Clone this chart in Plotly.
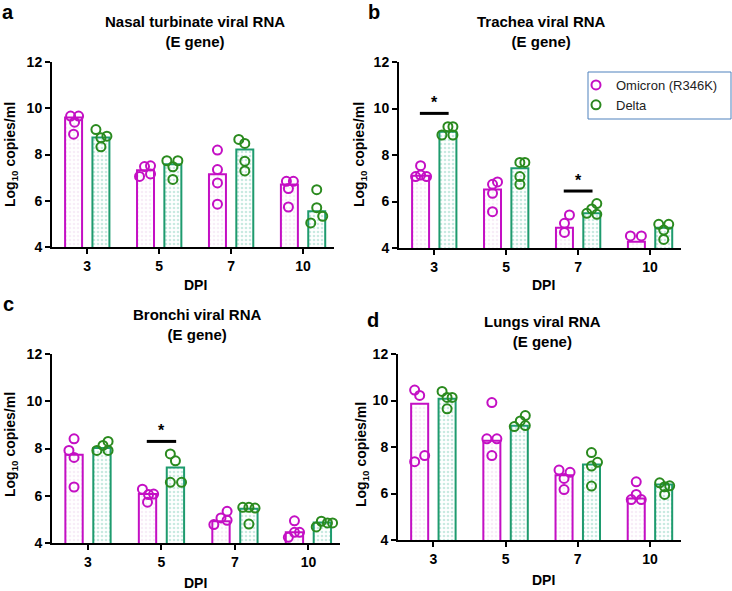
import plotly.graph_objects as go

# ---------------- data ----------------
dpi_labels = ["3", "5", "7", "10"]
dpi_idx = [0, 1, 2, 3]

# bar heights (log10 copies/ml)
a_om_bar = [9.60, 7.32, 7.15, 6.70]
a_de_bar = [8.74, 7.58, 8.22, 5.55]
b_om_bar = [7.11, 6.52, 4.87, 4.27]
b_de_bar = [9.00, 7.43, 5.49, 4.87]
c_om_bar = [7.74, 6.07, 4.92, 4.45]
c_de_bar = [8.02, 7.20, 5.45, 4.87]
d_om_bar = [9.86, 8.27, 6.79, 5.78]
d_de_bar = [10.07, 8.91, 7.25, 6.39]

# individual animals per DPI
a_om_pts = [[9.66, 9.66, 9.40, 8.88], [7.05, 7.48, 7.51, 7.16], [8.19, 7.35, 6.77, 5.85], [6.84, 6.84, 6.53, 5.73]]
a_de_pts = [[9.08, 8.79, 8.72, 8.33], [7.73, 7.73, 7.47, 6.92], [8.65, 8.48, 7.71, 7.29], [6.48, 5.70, 5.33, 5.04]]
b_om_pts = [[7.54, 7.07, 7.07, 7.14], [6.74, 6.84, 6.35, 5.56], [5.42, 5.06, 4.67], [4.52, 4.52]]
b_de_pts = [[8.86, 9.22, 9.22, 8.86], [7.68, 7.68, 7.07, 6.74], [5.49, 5.68, 5.91, 5.45], [5.02, 5.02, 4.77, 4.37]]
c_om_pts = [[8.41, 7.92, 7.62, 6.37], [6.28, 6.05, 6.07, 5.73], [4.78, 5.06, 4.96, 5.34], [4.24, 4.45, 4.45, 4.94]]
c_de_pts = [[7.92, 8.13, 8.30, 7.92], [7.77, 7.48, 6.57, 6.57], [5.51, 5.51, 5.48, 4.80], [4.68, 4.92, 4.85, 4.85]]
d_om_pts = [[10.45, 10.22, 7.63, 7.37], [9.91, 8.35, 8.35, 7.63], [7.01, 6.65, 6.91, 6.17], [6.50, 5.74, 5.74, 5.96]]
d_de_pts = [[10.39, 10.13, 10.13, 9.64], [8.88, 9.12, 9.35, 8.92], [7.76, 7.34, 7.18, 6.32], [6.46, 6.29, 6.33, 5.96]]

# horizontal spread of dots inside a bar (pixels, style only)
a_om_jit = [[-3, 5, 1, 0], [-6, -1, 5, 5], [0, 0, 0, 0], [-3, 4, -1, -1]]
a_de_jit = [[-5, 6, 0, 0], [-6, 5, 0, 0], [-6, 0, 0, 0], [0, 0, 6, -6]]
b_om_jit = [[0, -5, 6, 0], [0, 5, 0, 0], [5, 0, 0], [-6, 5]]
b_de_jit = [[-6, 0, 5, 5], [0, 5, 0, 0], [-5, 0, 5, 5], [-5, 5, 0, 0]]
c_om_jit = [[0, -5, 0, 0], [-5, 1, 6, 0], [-7, 0, 6, 6], [-6, 0, 5, 0]]
c_de_jit = [[-5, 1, 6, 6], [-5, 0, -5, 6], [-6, 0, 6, 0], [-6, -1, 5, 10]]
d_om_jit = [[-5, 0, 5, -5], [0, -5, 5, 0], [-5, 0, 6, 0], [0, -5, 5, 0]]
d_de_jit = [[-5, 0, 5, 0], [-5, 1, 6, 6], [0, 6, 0, 0], [-4, 1, 6, 1]]

# significance markers: (DPI index, bar level)
b_sig = [(0, 9.79), (2, 6.45)]
c_sig = [(1, 8.30)]

titles = ["Nasal turbinate viral RNA<br>(E gene)", "Trachea viral RNA<br>(E gene)",
          "Bronchi viral RNA<br>(E gene)", "Lungs viral RNA<br>(E gene)"]
letters = ["a", "b", "c", "d"]
series_names = ["Omicron (R346K)", "Delta"]

# ---------------- style ----------------
W, H = 732, 591
OM_LINE = "#C40FC4"
OM_DOT = "#C40FC4"
DE_LINE = "#1E9B6E"
DE_DOT = "#2A8A1E"
FONT = "Liberation Sans"
OFF = 0.19
BW = 0.236
PX = 1 / 72.0

# panel geometry in pixels: (x0, x1, ytop, ybottom)
geo = [(52, 334, 62, 247), (399, 681, 62, 248), (52, 340, 354, 543), (398, 681, 354, 540)]
title_pos = [(195, 32), (541, 32), (197, 325), (542, 332)]
ylab_pos = [(11, 155), (360, 155), (11, 445), (362, 455)]
dpi_pos = [(195, 285), (543, 285), (195, 583), (543, 580)]
letter_pos = [(8, 12), (374, 12), (8, 304), (373, 320)]

panels = [
    (a_om_bar, a_de_bar, a_om_pts, a_de_pts, a_om_jit, a_de_jit, []),
    (b_om_bar, b_de_bar, b_om_pts, b_de_pts, b_om_jit, b_de_jit, b_sig),
    (c_om_bar, c_de_bar, c_om_pts, c_de_pts, c_om_jit, c_de_jit, c_sig),
    (d_om_bar, d_de_bar, d_om_pts, d_de_pts, d_om_jit, d_de_jit, []),
]

fig = go.Figure()
layout = dict(
    width=W, height=H, margin=dict(l=0, r=0, t=0, b=0, autoexpand=False),
    paper_bgcolor="white", plot_bgcolor="white",
    barmode="overlay", showlegend=True,
    legend=dict(x=576 / W, y=1 - 70 / H, xanchor="left", yanchor="top",
                borderwidth=0, bgcolor="rgba(0,0,0,0)",
                font=dict(family=FONT, size=13, color="#222"),
                itemwidth=30, tracegroupgap=0),
    shapes=[dict(type="rect", xref="paper", yref="paper",
                 x0=588 / W, x1=731 / W, y0=1 - 119 / H, y1=1 - 72 / H,
                 line=dict(color="#4F81BD", width=1), fillcolor="rgba(0,0,0,0)", layer="below")],
)
annotations = []

for p, (om_bar, de_bar, om_pts, de_pts, om_jit, de_jit, sig) in enumerate(panels):
    n = p + 1
    xa = "x" if n == 1 else f"x{n}"
    ya = "y" if n == 1 else f"y{n}"
    x0, x1, yt, yb = geo[p]
    axis_common = dict(showline=True, linecolor="black", linewidth=2, ticks="outside",
                       tickwidth=2, ticklen=5, tickcolor="black", showgrid=False, zeroline=False,
                       automargin=False,
                       tickfont=dict(family=FONT, size=14, color="black", weight="bold"))
    layout["xaxis" if n == 1 else f"xaxis{n}"] = dict(
        domain=[x0 / W, x1 / W], anchor=ya, range=[-0.49, 3.43],
        tickvals=dpi_idx, ticktext=dpi_labels, **axis_common)
    layout["yaxis" if n == 1 else f"yaxis{n}"] = dict(
        domain=[1 - yb / H, 1 - yt / H], anchor=xa, range=[4, 12],
        tickvals=[4, 6, 8, 10, 12], **axis_common)

    for side, bars, pts, jit, lc, dc, fg, name in [
        (-1, om_bar, om_pts, om_jit, OM_LINE, OM_DOT, "#F0DCF0", series_names[0]),
        (1, de_bar, de_pts, de_jit, DE_LINE, DE_DOT, "#94D5C3", series_names[1]),
    ]:
        fig.add_trace(go.Bar(
            x=dpi_idx, y=bars, width=BW, offset=side * OFF - BW / 2,
            marker=dict(color="white", line=dict(color=lc, width=2),
                        pattern=dict(shape=".", fgcolor=fg, bgcolor="white", size=4, solidity=0.35)),
            xaxis=xa, yaxis=ya, showlegend=False, hoverinfo="skip"))
        xs, ys = [], []
        for i, (vals, js) in enumerate(zip(pts, jit)):
            for v, j in zip(vals, js):
                xs.append(dpi_idx[i] + side * OFF + j * PX)
                ys.append(v)
        fig.add_trace(go.Scatter(
            x=xs, y=ys, mode="markers", name=name,
            marker=dict(symbol="circle-open", size=9, color=dc, line=dict(width=2, color=dc)),
            xaxis=xa, yaxis=ya, showlegend=(p == 0), cliponaxis=False))

    for (i, lvl) in sig:
        fig.add_trace(go.Scatter(
            x=[dpi_idx[i] - 0.2, dpi_idx[i] + 0.2], y=[lvl, lvl], mode="lines",
            line=dict(color="black", width=3), xaxis=xa, yaxis=ya, showlegend=False,
            hoverinfo="skip"))
        annotations.append(dict(x=dpi_idx[i], y=lvl, xref=xa, yref=ya, text="<b>*</b>",
                                showarrow=False, yanchor="bottom", yshift=0,
                                font=dict(family=FONT, size=16, color="black")))

    tx, ty = title_pos[p]
    annotations.append(dict(x=tx / W, y=1 - ty / H, xref="paper", yref="paper",
                            text=f"<b>{titles[p]}</b>", showarrow=False,
                            font=dict(family=FONT, size=15, color="black"),
                            xanchor="center", yanchor="middle", align="center"))
    lx, ly = ylab_pos[p]
    annotations.append(dict(x=lx / W, y=1 - ly / H, xref="paper", yref="paper",
                            text="<b>Log<sub>10</sub> copies/ml</b>", showarrow=False, textangle=-90,
                            font=dict(family=FONT, size=14, color="black"),
                            xanchor="center", yanchor="middle"))
    dx, dy = dpi_pos[p]
    annotations.append(dict(x=dx / W, y=1 - dy / H, xref="paper", yref="paper",
                            text="<b>DPI</b>", showarrow=False,
                            font=dict(family=FONT, size=14, color="black"),
                            xanchor="center", yanchor="middle"))
    ex, ey = letter_pos[p]
    annotations.append(dict(x=ex / W, y=1 - ey / H, xref="paper", yref="paper",
                            text=f"<b>{letters[p]}</b>", showarrow=False,
                            font=dict(family=FONT, size=20, color="black"),
                            xanchor="center", yanchor="middle"))

layout["annotations"] = annotations
fig.update_layout(**layout)
fig.write_html("out.html", config={"displayModeBar": False},
               post_script="document.body.style.margin='0px';document.body.style.padding='0px';")
